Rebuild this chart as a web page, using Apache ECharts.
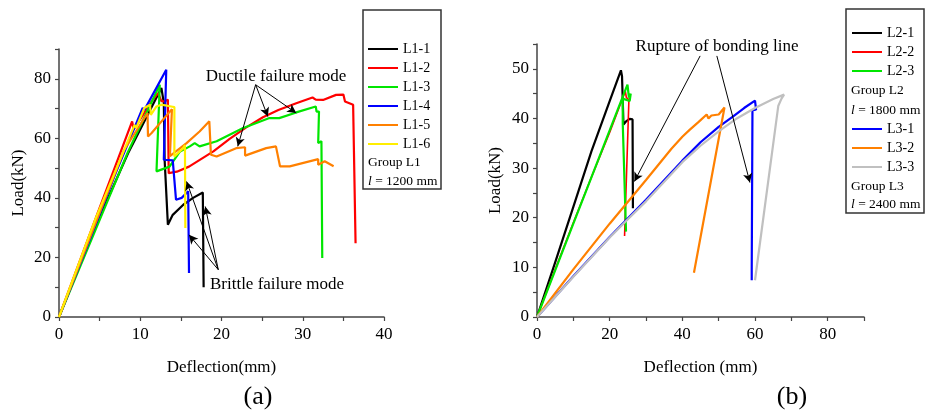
<!DOCTYPE html>
<html>
<head>
<meta charset="utf-8">
<script src="https://cdn.jsdelivr.net/npm/echarts@6/dist/echarts.min.js"></script>
<style>
  html, body { margin: 0; padding: 0; background: #fff; }
  #chart { width: 925px; height: 413px; }
</style>
</head>
<body>
<div id="chart"></div>
<script>
// ---- panel (a): group L1, deflection (mm) / load (kN)
const namesA = ['L1-1', 'L1-2', 'L1-3', 'L1-4', 'L1-5', 'L1-6'];
const L1_1 = [[0,0],[4,27.5],[8.5,55],[12.6,76.9],[12.9,72],[13.0,52.8],[13.4,31],[14.0,34.3],[15.3,37.7],[16.5,40],[17.7,41.8],[17.8,10]];
const L1_2 = [[0,0],[4.5,33],[9.0,65.7],[9.2,63],[11.4,72.4],[12.2,75.2],[12.6,72.5],[13.0,72.4],[13.4,73],[13.5,48.3],[14.5,48.8],[16,50.5],[19,55.6],[21,59.8],[23,63.6],[25.1,67.1],[27,69.5],[29.2,71.8],[31.2,73.7],[31.6,73],[32.5,72.9],[34.1,74.6],[35,74.7],[35.2,72.4],[36.2,71.3],[36.5,24.8]];
const L1_3 = [[0,0],[4.3,28],[8.5,55.5],[12.4,78],[12.0,48.9],[13.6,50.5],[14.9,55.6],[16.1,57.3],[16.7,58.4],[17.3,57.3],[19.4,59],[22.6,63.4],[25.9,66.8],[27.1,66.8],[29.2,68.7],[31.6,70.7],[31.7,69],[32.0,69],[31.9,58.4],[32.3,59],[32.4,19.8]];
const L1_4 = [[0,0],[3.5,24],[7,48.5],[10.3,70.2],[10.5,69.5],[13.2,83],[12.9,52.8],[14.0,52.6],[14.4,39.4],[15.1,40],[15.9,42.2],[16.0,14.8]];
const L1_5 = [[0,0],[4,28],[8,56],[10.9,68.5],[10.95,60.6],[11.4,61.8],[13.9,69.8],[13.65,54],[15.7,58.4],[17.3,62.3],[18.5,65.7],[18.7,54.5],[19.4,53.9],[21.8,56.7],[22.9,57],[22.9,54.2],[25.5,56.7],[26.7,57.3],[27.2,50.6],[28.4,50.6],[31.9,53],[31.9,51.1],[32.7,52.3],[33.8,50.6]];
const L1_6 = [[0,0],[4.5,33],[9.3,64.5],[9.5,63.5],[10.5,70.2],[11.2,71.3],[11.3,67.9],[12.0,70.7],[12.6,71.3],[13.8,70.7],[14.2,70.5],[14.2,53.9],[15.3,56.7],[15.5,57.8],[15.55,29.9]];
const colorsA = ['#000000', '#ff0000', '#00e600', '#0000ff', '#ff8000', '#ffee00'];
const xLabelsA = [0, 10, 20, 30, 40];
const yLabelsA = [0, 20, 40, 60, 80];

// ---- panel (b): groups L2 and L3
const namesB2 = ['L2-1', 'L2-2', 'L2-3'];
const namesB3 = ['L3-1', 'L3-2', 'L3-3'];
const L2_1 = [[0,0],[5,11],[10,22.2],[15,33.4],[20,43.5],[23.1,49.7],[23.4,48.5],[23.7,48.6],[23.8,38.8],[24.5,39.4],[25.5,39.9],[26.3,39.8],[26.4,21.9]];
const L2_2 = [[0,0],[5,9.6],[10,19],[15,28.2],[20,37.2],[24.3,45.5],[24.6,44.2],[25.3,43.8],[24.1,16.3]];
const L2_3 = [[0,0],[5,9.4],[10,18.8],[15,28.2],[20,37.6],[24.9,46.8],[25.3,44.2],[25.8,45],[25.5,43.5],[23.6,44],[23.6,39],[24.5,17.2]];
const L3_1 = [[0,0],[10,8.2],[20,16.1],[30,23.6],[40,31.5],[45,35.2],[50,38.3],[54,40.4],[57,42.1],[60,43.6],[60.3,41.8],[59.3,41.6],[59.1,9.4],[59.6,9.4],[59.1,7.4]];
const L3_2 = [[0,0],[10,9.6],[20,18.8],[30,27.6],[37,33.9],[40,36.3],[42,37.7],[44.5,39.3],[46.7,40.8],[47.2,40],[48,40.6],[50,40.8],[51.6,42.2],[43.2,8.9]];
const L3_3 = [[0,0],[10,8.1],[20,16],[25,19.7],[30,23.3],[40,31.2],[45,34.5],[50,37.4],[55,40],[60,42.1],[65,43.9],[68,44.8],[67.3,44],[66.4,42.5],[60,7.4]];
const colorsB = ['#000000', '#ff0000', '#00e600', '#0000ff', '#ff8000', '#c0c0c0'];
const xLabelsB = [0, 20, 40, 60, 80];
const yLabelsB = [0, 10, 20, 30, 40, 50];

// annotation arrows, in data units: [from, to]
const arrowsDuctile = [[[24.2,78],[22.0,57.3]], [[24.2,78],[25.7,67.3]], [[24.2,78],[29.2,68.5]]];
const arrowsBrittle = [[[19.6,15.9],[15.7,45.5]], [[19.6,15.9],[18.0,37.1]], [[19.6,15.9],[16.0,27.6]]];
const arrowsRupture = [[[44.9,52.6],[26.8,27.3]], [[49.5,52.6],[58.6,27.1]]];

const FONT = 'Liberation Serif';
const AXIS_COLOR = '#444';

const chart = echarts.init(document.getElementById('chart'), null, { renderer: 'canvas' });

function valueAxis(idx, min, max, interval, labels, extra) {
  return Object.assign({
    type: 'value', gridIndex: idx, min: min, max: max, interval: interval,
    splitLine: { show: false },
    axisLine: { show: true, lineStyle: { color: AXIS_COLOR, width: 1.5 } },
    axisTick: { show: true, inside: false, length: 4, lineStyle: { color: AXIS_COLOR, width: 1.2 } },
    axisLabel: {
      color: '#000', fontFamily: FONT, fontSize: 17,
      formatter: v => (labels.indexOf(v) >= 0 ? String(v) : '')
    },
    nameLocation: 'middle',
    nameTextStyle: { color: '#000', fontFamily: FONT, fontSize: 17 }
  }, extra);
}

function lineSeries(name, data, color, xi, width) {
  return {
    name: name, type: 'line', data: data, xAxisIndex: xi, yAxisIndex: xi,
    symbol: 'none', showSymbol: false, animation: false, silent: true,
    lineStyle: { color: color, width: width },
    itemStyle: { color: color }
  };
}

function arrowMarks(list) {
  return {
    silent: true, animation: false,
    symbol: ['none', 'arrow'], symbolSize: [7, 9],
    lineStyle: { color: '#000', width: 1, type: 'solid' },
    label: { show: false },
    emphasis: { disabled: true },
    data: list.map(a => [{ coord: a[0] }, { coord: a[1] }])
  };
}

const seriesA = [L1_1, L1_2, L1_3, L1_4, L1_5, L1_6].map((d, i) => lineSeries(namesA[i], d, colorsA[i], 0, 2.2));
seriesA[0].markLine = arrowMarks(arrowsDuctile.concat(arrowsBrittle));

const seriesB = [L2_1, L2_2, L2_3, L3_1, L3_2, L3_3].map((d, i) =>
  lineSeries(namesB2.concat(namesB3)[i], d, colorsB[i], 1, i === 1 ? 1.6 : 2.2));
seriesB[0].markLine = arrowMarks(arrowsRupture);

const legendBase = {
  orient: 'vertical', padding: 0, icon: 'rect', itemWidth: 30, itemHeight: 2, itemGap: 3,
  selectedMode: false,
  textStyle: { color: '#000', fontFamily: FONT, fontSize: 14, lineHeight: 16 }
};

function txt(x, y, text, size, align) {
  return {
    type: 'text', x: x, y: y, silent: true,
    style: {
      text: text, fill: '#000', fontFamily: FONT, fontSize: size,
      align: align || 'center', verticalAlign: 'middle',
      textAlign: align || 'center', textVerticalAlign: 'middle',
      rich: { i: { fontStyle: 'italic', fontFamily: FONT, fontSize: size } }
    }
  };
}

chart.setOption({
  backgroundColor: '#fff',
  animation: false,
  grid: [
    { left: 59, top: 49, width: 325, height: 268 },
    { left: 537, top: 44, width: 327, height: 273 }
  ],
  xAxis: [
    valueAxis(0, 0, 40, 5, xLabelsA, { name: 'Deflection(mm)', nameGap: 42, axisLabel: { color: '#000', fontFamily: FONT, fontSize: 17, margin: 9, formatter: v => (xLabelsA.indexOf(v) >= 0 ? String(v) : '') } }),
    valueAxis(1, 0, 90, 10, xLabelsB, { name: 'Deflection (mm)', nameGap: 42, axisLabel: { color: '#000', fontFamily: FONT, fontSize: 17, margin: 9, formatter: v => (xLabelsB.indexOf(v) >= 0 ? String(v) : '') } })
  ],
  yAxis: [
    valueAxis(0, 0, 90, 10, yLabelsA, { name: 'Load(kN)', nameGap: 32 }),
    valueAxis(1, 0, 55, 5, yLabelsB, { name: 'Load(kN)', nameGap: 33 })
  ],
  legend: [
    Object.assign({}, legendBase, { left: 368, top: 41, data: namesA }),
    Object.assign({}, legendBase, { left: 852, top: 25, data: namesB2 }),
    Object.assign({}, legendBase, { left: 852, top: 121, data: namesB3 })
  ],
  series: seriesA.concat(seriesB),
  graphic: [
    { type: 'rect', silent: true, shape: { x: 363, y: 10, width: 78, height: 179 }, style: { fill: 'none', stroke: '#333', lineWidth: 1.5 } },
    { type: 'rect', silent: true, shape: { x: 846, y: 9, width: 78, height: 204 }, style: { fill: 'none', stroke: '#333', lineWidth: 1.5 } },
    txt(368, 162, 'Group L1', 13.5, 'left'),
    txt(368, 181, '{i|l} = 1200 mm', 13.5, 'left'),
    txt(851, 90, 'Group L2', 13.5, 'left'),
    txt(851, 110, '{i|l} = 1800 mm', 13.5, 'left'),
    txt(851, 186, 'Group L3', 13.5, 'left'),
    txt(851, 204, '{i|l} = 2400 mm', 13.5, 'left'),
    txt(276, 77, 'Ductile failure mode', 17),
    txt(277, 285, 'Brittle failure mode', 17),
    txt(717, 47, 'Rupture of bonding line', 17),
    txt(258, 397, '(a)', 26),
    txt(792, 397, '(b)', 26)
  ]
});
</script>
</body>
</html>
